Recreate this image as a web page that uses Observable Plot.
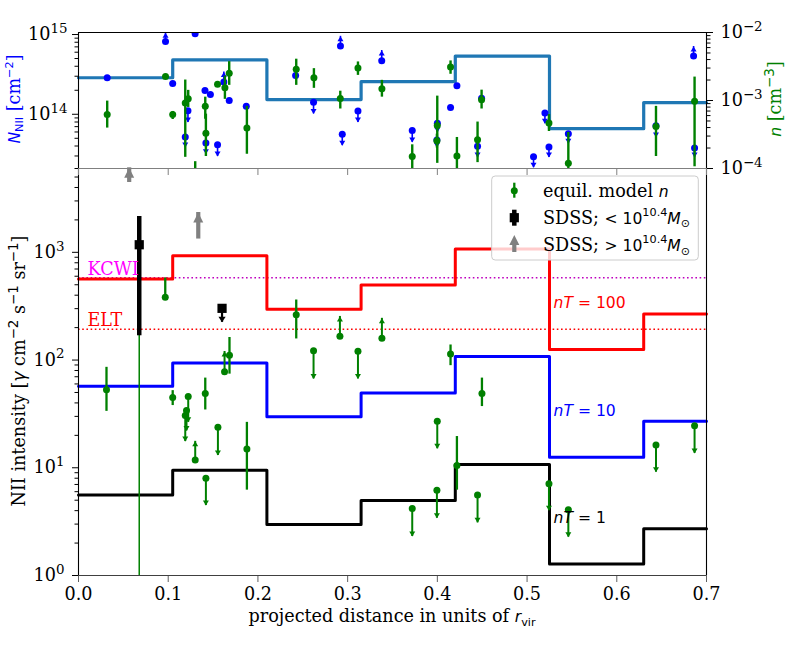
<!DOCTYPE html>
<html>
<head>
<meta charset="utf-8">
<script src="https://cdn.jsdelivr.net/npm/d3@7"></script>
<script src="https://cdn.jsdelivr.net/npm/@observablehq/plot@0.6"></script>
<style>
html,body{margin:0;padding:0;background:#fff;}
#wrap{position:relative;width:785px;height:654px;overflow:hidden;background:#fff;}
#wrap > svg{position:absolute;left:0;top:0;}
</style>
</head>
<body>
<div id="wrap"></div>
<script>
// ---------------- data ----------------
const binEdges = [0, 0.105, 0.21, 0.315, 0.42, 0.525, 0.63, 0.7];
const columnModel = [2.87e14, 4.8e14, 1.53e14, 2.56e14, 5.37e14, 6.6e13, 1.40e14];
const nT1 = [5.6, 9.5, 2.97, 4.96, 10.7, 1.28, 2.71];
const nT10 = [57, 94, 29.7, 49.5, 108, 12.5, 27];
const nT100 = [565, 930, 296, 497, 1073, 125, 268];
const kcwiLevel = 581;
const eltLevel = 193;
const modelLabels = ["nT = 100", "nT = 10", "nT = 1"];
const modelLabelLevels = [340, 34, 3.4];

// blue: N_NII column densities (left axis, top panel); colEnd = limit arrow end
const colX = [0.032, 0.097, 0.130, 0.105, 0.141, 0.147, 0.162, 0.168, 0.187, 0.122, 0.119, 0.142, 0.155, 0.242, 0.262, 0.294, 0.292, 0.3115, 0.338, 0.372, 0.400, 0.3995, 0.4147, 0.4218, 0.4448, 0.4493, 0.5072, 0.5199, 0.5244, 0.546, 0.6437, 0.6856, 0.6867];
const colN = [2.87e14, 8.2e14, 1.02e15, 2.44e14, 1.99e14, 1.77e14, 2.53e14, 1.49e14, 1.26e14, 1.11e14, 5.2e13, 4.36e13, 4.15e13, 3.07e14, 1.42e14, 5.6e13, 7.18e14, 1.1e14, 4.7e14, 6.24e13, 7.7e13, 4.75e13, 1.22e14, 2.28e14, 3.96e13, 1.59e14, 2.93e13, 1.04e14, 3.89e13, 5.7e13, 7.2e13, 5.37e14, 3.78e13];
const colEnd = [null, 1.05e15, null, null, null, null, 3.39e14, null, null, 7.9e13, 3.84e13, 3.16e13, 2.95e13, null, 1.01e14, 4.04e13, 9.5e14, 7.9e13, 6.3e14, 4.44e13, 5.93e13, 3.8e13, null, null, 2.88e13, null, 2.14e13, 7.6e13, 2.88e13, 4.27e13, 5.13e13, 7.08e14, 2.88e13];

// green: equilibrium-model densities n (right axis, top panel)
const denX = [0.032, 0.097, 0.105, 0.119, 0.1223, 0.1413, 0.142, 0.155, 0.1632, 0.168, 0.1877, 0.1301, 0.2427, 0.2624, 0.2918, 0.3115, 0.3382, 0.4147, 0.372, 0.3999, 0.3995, 0.4218, 0.4448, 0.4493, 0.5244, 0.546, 0.6437, 0.6867];
const denN = [6.2e-4, 2.26e-3, 6.2e-4, 9.2e-4, 1.06e-3, 8.2e-4, 3.3e-4, 1.73e-3, 1.54e-3, 2.51e-3, 3.93e-4, 5e-5, 2.88e-3, 2.16e-3, 1.07e-3, 3.0e-3, 1.49e-3, 3.11e-3, 1.5e-4, 4.3e-4, 2.55e-4, 1.53e-4, 2.64e-4, 1.03e-3, 4.66e-4, 1.19e-4, 4.16e-4, 9.77e-4];
const denLo = [3.93e-4, 2.04e-3, 5.25e-4, 1.46e-4, 7.9e-4, 5.3e-4, 1.5e-4, 1.6e-3, 1.04e-3, 1.67e-3, 1.62e-4, 2e-5, 1.67e-3, 1.51e-3, 7.5e-4, 2.34e-3, 1.12e-3, 2.43e-3, 8e-5, 1.19e-4, 2.0e-4, 8e-5, 1.22e-4, 7.5e-4, 3.5e-4, 8e-5, 1.5e-4, 1.06e-4];
const denHi = [9.8e-4, 2.4e-3, 6.9e-4, 2.0e-3, 1.41e-3, 1.12e-3, 6.3e-4, 1.85e-3, 2.29e-3, 3.73e-3, 8.2e-4, 1.26e-4, 4.05e-3, 2.94e-3, 1.37e-3, 3.69e-3, 1.98e-3, 3.82e-3, 2.23e-4, 1.16e-3, 3.2e-4, 2.86e-4, 4.82e-4, 1.42e-3, 6.2e-4, 3.39e-4, 8.2e-4, 2.21e-3];

// green: predicted NII intensity (bottom panel), with error bars
const intBarX = [0.0967, 0.2427, 0.1683, 0.0312, 0.1413, 0.105, 0.1877, 0.4147, 0.4497, 0.4218];
const intBarI = [382, 264, 111, 53, 49, 45, 14.9, 114, 49, 10.5];
const intBarLo = [370, 157, 74, 33.4, 34.4, 37.8, 6.2, 88.7, 37, 6.2];
const intBarHi = [578, 361, 162, 85.6, 68, 52, 26.4, 138, 68, 19.5];
// green: limits (arrow end)
const intLimX = [0.2914, 0.3382, 0.262, 0.3115, 0.1628, 0.1223, 0.1204, 0.119, 0.1301, 0.1554, 0.142, 0.3999, 0.3995, 0.4448, 0.372, 0.5244, 0.546, 0.6437, 0.6867];
const intLimI = [166, 159, 122, 121, 78, 46, 34, 30.5, 11.8, 23.8, 8.0, 27, 6.2, 5.6, 4.19, 7.1, 4.07, 16.3, 24.6];
const intLimEnd = [254, 244, 66.8, 66.8, 120, 26.4, 22, 17.5, 17.6, 13, 4.46, 15, 3.4, 3.08, 2.3, 4.0, 2.27, 9.1, 13.6];
// green: very wide error bar hidden under the SDSS marker
const intWideX = [0.0677];
const intWideLo = [0.3];
const intWideHi = [1176];

// SDSS stacks
const sdssLowX = [0.0677, 0.160];
const sdssLowI = [1176, 302];
const sdssLowLo = [168, null];
const sdssLowHi = [2152, null];
const sdssLowEnd = [null, 224];
const sdssHighX = [0.1335, 0.0565];
const sdssHighI = [1328, 4450];
const sdssHighEnd = [2344, 6090];

const xTicks = [0, 0.1, 0.2, 0.3, 0.4, 0.5, 0.6, 0.7];

// ---------------- helpers ----------------
const NS = "http://www.w3.org/2000/svg";
const SERIF = "DejaVu Serif", SANS = "DejaVu Sans";
const FS = 17.6;      // serif text size
const MS = 15.6;      // math (sans) text size
const SUP = -FS * 0.42, SUB = FS * 0.22;
const GREEN = "#008000", BLUE = "#0000ff";

function tri(w, h, up) {
  return {draw(c) {
    if (up) { c.moveTo(0, 0); c.lineTo(w, h); c.lineTo(-w, h); }
    else { c.moveTo(0, 0); c.lineTo(w, -h); c.lineTo(-w, -h); }
    c.closePath();
  }};
}
const triUpS = tri(3, 5, true), triDownS = tri(3, 5, false);
const triUpBig = tri(5, 10, true), triDownMid = tri(3.6, 5.5, false);

function decadeMinor(lo, hi) {
  const out = [];
  for (let e = Math.floor(Math.log10(lo)); e <= Math.ceil(Math.log10(hi)); e++)
    for (let k = 2; k <= 9; k++) { const v = k * Math.pow(10, e); if (v >= lo * 0.999 && v <= hi * 1.001) out.push(v); }
  return out;
}
const expFmt = d => "10^" + String(Math.round(Math.log10(d))).replace("-", "\u2212");
const stepRows = vals => binEdges.map((x, i) => ({x, v: vals[Math.min(i, vals.length - 1)]}));

function setParts(t, parts) {
  while (t.firstChild) t.removeChild(t.firstChild);
  let cur = 0;
  for (const p of parts) {
    const s = document.createElementNS(NS, "tspan");
    const shift = p.shift || 0;
    if (shift !== cur) s.setAttribute("dy", (shift - cur).toFixed(2));
    cur = shift;
    if (p.family) s.setAttribute("font-family", p.family);
    if (p.italic) s.setAttribute("font-style", "italic");
    if (p.size) s.setAttribute("font-size", p.size.toFixed(2) + "px");
    s.textContent = p.t;
    t.appendChild(s);
  }
}
function fixTexts(svg) {
  svg.querySelectorAll("text").forEach(t => {
    const s = t.textContent;
    const m = /^10\^(.+)$/.exec(s);
    if (m) { setParts(t, [{t: "10"}, {t: m[1], size: FS * 0.76, shift: SUP}]); return; }
    const n = /^nT = (\d+)$/.exec(s);
    if (n) setParts(t, [{t: "n", italic: true}, {t: "T", italic: true}, {t: " = " + n[1]}]);
  });
}
const baseStyle = {background: "transparent", overflow: "visible", fontFamily: SERIF, fontSize: FS + "px", color: "black"};
const wrap = document.getElementById("wrap");

// ---------------- top panel: column density ----------------
const colRows = colX.map((x, i) => ({x, v: colN[i], end: colEnd[i]}));
const colUp = colRows.filter(d => d.end != null && d.end > d.v);
const colDown = colRows.filter(d => d.end != null && d.end < d.v);
const colDomain = [2.09e13, 1.06e15];

const topN = Plot.plot({
  width: 785, height: 175, marginLeft: 78, marginRight: 79, marginTop: 32, marginBottom: 7,
  style: baseStyle,
  x: {domain: [0, 0.7], label: null},
  y: {type: "log", domain: colDomain, label: null},
  marks: [
    Plot.line(stepRows(columnModel), {x: "x", y: "v", curve: "step-after", stroke: "#1f77b4", strokeWidth: 3.2}),
    Plot.ruleX(colUp.concat(colDown), {x: "x", y1: "v", y2: "end", stroke: BLUE, strokeWidth: 1.6, clip: true}),
    Plot.dot(colUp, {x: "x", y: "end", symbol: triUpS, fill: BLUE, stroke: "none", clip: true}),
    Plot.dot(colDown, {x: "x", y: "end", symbol: triDownS, fill: BLUE, stroke: "none", clip: true}),
    Plot.dot(colRows, {x: "x", y: "v", r: 3.5, fill: BLUE, stroke: "none", clip: true}),
    Plot.axisY({anchor: "left", ticks: [1e14, 1e15], tickSize: 6, tickPadding: 5, tickFormat: expFmt}),
    Plot.axisY({anchor: "left", ticks: decadeMinor(colDomain[0], colDomain[1]), tickSize: 3.5, tickFormat: () => ""}),
    Plot.axisX({anchor: "bottom", ticks: xTicks, tickSize: 7, tickFormat: () => "", stroke: "#808080"}),
    Plot.ruleX([0, 0.7], {stroke: "black", strokeWidth: 1.1}),
    Plot.ruleY([colDomain[1]], {stroke: "black", strokeWidth: 1.1}),
    Plot.ruleY([colDomain[0]], {stroke: "#808080", strokeWidth: 1.1})
  ]
});
fixTexts(topN);

// ---------------- top panel: density (right axis) ----------------
const denRows = denX.map((x, i) => ({x, v: denN[i], lo: denLo[i], hi: denHi[i]}));
const topDen = Plot.plot({
  width: 785, height: 175, marginLeft: 78, marginRight: 79, marginTop: 32, marginBottom: 7,
  style: baseStyle,
  x: {domain: [0, 0.7], axis: null, label: null},
  y: {type: "log", domain: [1e-4, 1e-2], label: null},
  marks: [
    Plot.ruleX(denRows, {x: "x", y1: "lo", y2: "hi", stroke: GREEN, strokeWidth: 2.4, clip: true}),
    Plot.dot(denRows, {x: "x", y: "v", r: 3.5, fill: GREEN, stroke: "none", clip: true}),
    Plot.axisY({anchor: "right", ticks: [1e-4, 1e-3, 1e-2], tickSize: 6, tickPadding: 8, tickFormat: expFmt}),
    Plot.axisY({anchor: "right", ticks: decadeMinor(1e-4, 1e-2), tickSize: 3.5, tickFormat: () => ""})
  ]
});
fixTexts(topDen);

// ---------------- bottom panel: intensity ----------------
const barRows = intBarX.map((x, i) => ({x, v: intBarI[i], lo: intBarLo[i], hi: intBarHi[i]}));
const limRows = intLimX.map((x, i) => ({x, v: intLimI[i], end: intLimEnd[i]}));
const limUp = limRows.filter(d => d.end > d.v), limDown = limRows.filter(d => d.end < d.v);
const wideRows = intWideX.map((x, i) => ({x, lo: intWideLo[i], hi: intWideHi[i]}));
const sdssLow = sdssLowX.map((x, i) => ({x, v: sdssLowI[i], lo: sdssLowLo[i], hi: sdssLowHi[i], end: sdssLowEnd[i]}));
const sdssLowBars = sdssLow.filter(d => d.lo != null);
const sdssLowLims = sdssLow.filter(d => d.end != null);
const sdssHigh = sdssHighX.map((x, i) => ({x, v: sdssHighI[i], end: sdssHighEnd[i]}));
const intDomain = [1, 6000];

const bottom = Plot.plot({
  width: 785, height: 654, marginLeft: 78, marginRight: 79, marginTop: 168, marginBottom: 79,
  style: baseStyle,
  x: {domain: [0, 0.7], label: null},
  y: {type: "log", domain: intDomain, label: null},
  marks: [
    Plot.ruleY([kcwiLevel], {stroke: "#bf00bf", strokeWidth: 1.6, strokeDasharray: "1.6,2.6"}),
    Plot.ruleY([eltLevel], {stroke: "#ff0000", strokeWidth: 1.6, strokeDasharray: "1.6,2.6"}),
    Plot.line(stepRows(nT100), {x: "x", y: "v", curve: "step-after", stroke: "#ff0000", strokeWidth: 3}),
    Plot.line(stepRows(nT10), {x: "x", y: "v", curve: "step-after", stroke: "#0000ff", strokeWidth: 3}),
    Plot.line(stepRows(nT1), {x: "x", y: "v", curve: "step-after", stroke: "#000000", strokeWidth: 3}),
    Plot.ruleX(wideRows, {x: "x", y1: "lo", y2: "hi", stroke: GREEN, strokeWidth: 1.5, clip: true}),
    Plot.ruleX(barRows, {x: "x", y1: "lo", y2: "hi", stroke: GREEN, strokeWidth: 2.3}),
    Plot.ruleX(limRows, {x: "x", y1: "v", y2: "end", stroke: GREEN, strokeWidth: 2}),
    Plot.dot(limUp, {x: "x", y: "end", symbol: triUpS, fill: GREEN, stroke: "none"}),
    Plot.dot(limDown, {x: "x", y: "end", symbol: triDownS, fill: GREEN, stroke: "none"}),
    Plot.dot(barRows, {x: "x", y: "v", r: 3.5, fill: GREEN, stroke: "none"}),
    Plot.dot(limRows, {x: "x", y: "v", r: 3.5, fill: GREEN, stroke: "none"}),
    Plot.ruleX(sdssLowBars, {x: "x", y1: "lo", y2: "hi", stroke: "black", strokeWidth: 4.5}),
    Plot.ruleX(sdssLowLims, {x: "x", y1: "v", y2: "end", stroke: "black", strokeWidth: 2.2}),
    Plot.dot(sdssLowLims, {x: "x", y: "end", symbol: triDownMid, fill: "black", stroke: "none"}),
    Plot.dot(sdssLow, {x: "x", y: "v", symbol: "square", r: 5.2, fill: "black", stroke: "none"}),
    Plot.ruleX(sdssHigh, {x: "x", y1: "v", y2: "end", stroke: "#808080", strokeWidth: 4.2}),
    Plot.dot(sdssHigh, {x: "x", y: "end", symbol: triUpBig, fill: "#808080", stroke: "none"}),
    Plot.text(["KCWI"], {x: 0, y: kcwiLevel, text: d => d, dx: 9, dy: -8, textAnchor: "start", fill: "#ff00ff", fontFamily: SERIF, fontSize: FS}),
    Plot.text(["ELT"], {x: 0, y: eltLevel, text: d => d, dx: 9, dy: -9, textAnchor: "start", fill: "#ff0000", fontFamily: SERIF, fontSize: FS}),
    Plot.text(modelLabels, {x: binEdges[5], y: (d, i) => modelLabelLevels[i], text: d => d, dx: 4, textAnchor: "start",
      fill: (d, i) => ["#ff0000", "#0000ff", "#000000"][i], fontFamily: SANS, fontSize: MS}),
    Plot.axisY({anchor: "left", ticks: [1, 10, 100, 1000], tickSize: 6, tickPadding: 8, tickFormat: expFmt}),
    Plot.axisY({anchor: "left", ticks: decadeMinor(intDomain[0], intDomain[1]), tickSize: 3.5, tickFormat: () => ""}),
    Plot.axisX({anchor: "bottom", ticks: xTicks, tickSize: 7, tickPadding: 5, tickFormat: d3.format(".1f"), stroke: "#606060"}),
    Plot.ruleX([0, 0.7], {stroke: "black", strokeWidth: 1.1}),
    Plot.ruleY([intDomain[0]], {stroke: "#404040", strokeWidth: 1.1})
  ]
});
fixTexts(bottom);

wrap.appendChild(bottom);
wrap.appendChild(topN);
wrap.appendChild(topDen);

// ---------------- titles & legend ----------------
const ov = d3.create("svg").attr("width", 785).attr("height", 654).style("overflow", "visible");
function label(x, y, rot, fill, parts) {
  const t = ov.append("text")
    .attr("transform", `translate(${x},${y})` + (rot ? ` rotate(${rot})` : ""))
    .attr("text-anchor", "middle").attr("fill", fill)
    .attr("font-family", SERIF).attr("font-size", FS);
  setParts(t.node(), parts);
}
const sup = (t, k = 0.72) => ({t, family: SANS, size: MS * k, shift: SUP});
const sub = t => ({t, family: SANS, size: MS * 0.72, shift: SUB});
const math = (t, italic, size = MS) => ({t, family: SANS, size, italic: !!italic});
label(392, 622, 0, "black", [{t: "projected distance in units of "}, math("r", true), sub("vir")]);
label(25, 371, -90, "black", [{t: "NII intensity ["}, math("\u03b3", true, FS * 0.98), {t: " cm"}, sup("\u22122", 0.86), {t: " s"}, sup("\u22121", 0.86), {t: " sr"}, sup("\u22121", 0.86), {t: "]"}]);
label(19.5, 99, -90, BLUE, [math("N", true), sub("NII"), {t: " [cm"}, {t: "\u22122", family: SANS, size: MS * 0.72, shift: -FS * 0.36}, {t: "]"}]);
label(781, 99, -90, GREEN, [math("n", true), {t: " [cm"}, sup("\u22123", 0.86), {t: "]"}]);

const lg = ov.append("g");
lg.append("rect").attr("x", 491.7).attr("y", 176).attr("width", 206.6).attr("height", 84).attr("rx", 3.5)
  .attr("fill", "white").attr("fill-opacity", 0.8).attr("stroke", "#cccccc").attr("stroke-width", 1);
const gx = 514.3, rows = [190.7, 217.7, 245];
lg.append("line").attr("x1", gx).attr("x2", gx).attr("y1", rows[0] - 8).attr("y2", rows[0] + 7).attr("stroke", GREEN).attr("stroke-width", 2.3);
lg.append("circle").attr("cx", gx).attr("cy", rows[0]).attr("r", 3.5).attr("fill", GREEN);
lg.append("line").attr("x1", gx).attr("x2", gx).attr("y1", rows[1] - 8).attr("y2", rows[1] + 8).attr("stroke", "black").attr("stroke-width", 4.5);
lg.append("rect").attr("x", gx - 4.6).attr("y", rows[1] - 4.6).attr("width", 9.2).attr("height", 9.2).attr("fill", "black");
lg.append("line").attr("x1", gx).attr("x2", gx).attr("y1", rows[2] - 3).attr("y2", rows[2] + 7).attr("stroke", "#808080").attr("stroke-width", 4.2);
lg.append("path").attr("d", `M${gx},${rows[2] - 10}L${gx + 5},${rows[2]}L${gx - 5},${rows[2]}Z`).attr("fill", "#808080");
const legendTexts = [
  [{t: "equil. model "}, math("n", true)],
  [{t: "SDSS; "}, math("< 10"), sup("10.4"), {t: "M", family: SANS, size: MS, italic: true, shift: 0}, sub("\u2299")],
  [{t: "SDSS; "}, math("> 10"), sup("10.4"), {t: "M", family: SANS, size: MS, italic: true, shift: 0}, sub("\u2299")]
];
legendTexts.forEach((parts, i) => {
  const t = lg.append("text").attr("x", 543).attr("y", rows[i] + 5.8).attr("font-family", SERIF).attr("font-size", FS).attr("fill", "black");
  setParts(t.node(), parts);
});
wrap.appendChild(ov.node());
</script>
</body>
</html>
